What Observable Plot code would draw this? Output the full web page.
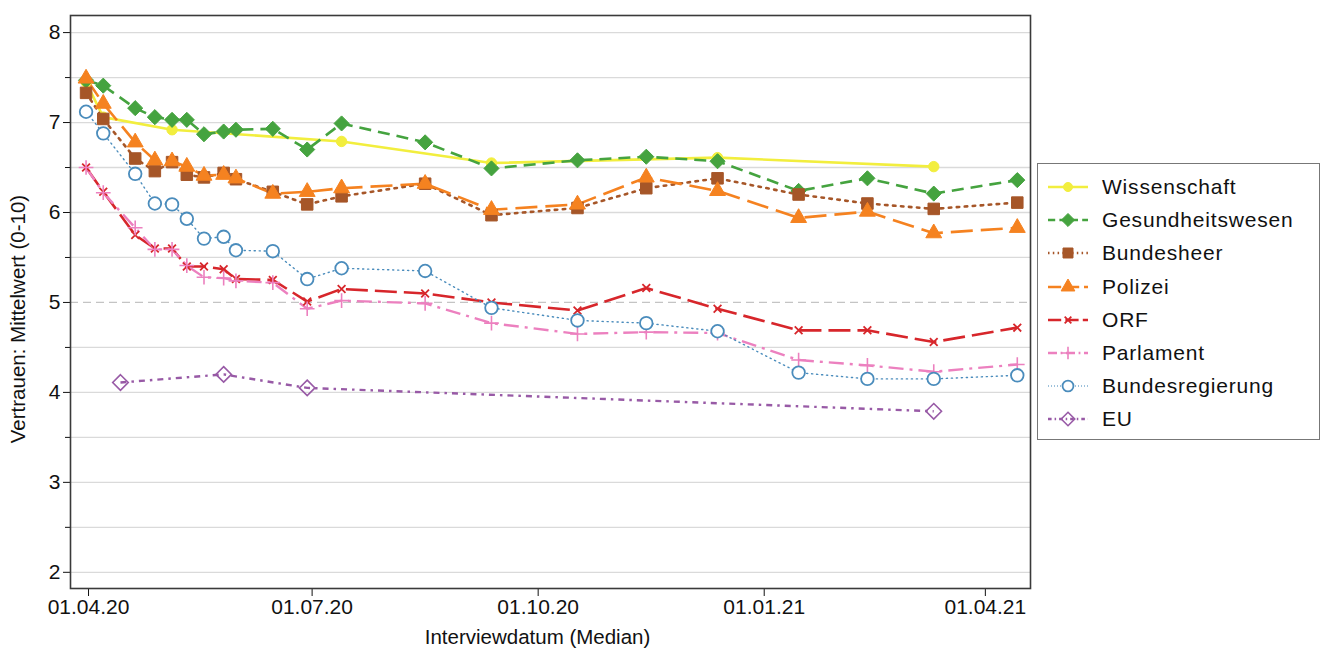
<!DOCTYPE html>
<html>
<head>
<meta charset="utf-8">
<script src="https://cdn.jsdelivr.net/npm/d3@7"></script>
<script src="https://cdn.jsdelivr.net/npm/@observablehq/plot@0.6"></script>
<style>
  body { margin: 0; background: #fff; font-family: "Liberation Sans", Arial, sans-serif; }
  #wrap { position: relative; width: 1323px; height: 650px; }
  #legend { position: absolute; left: 1037px; top: 163px; width: 283px; height: 277px; border: 1px solid #777; box-sizing: border-box; background: #fff; }
  .item { position: absolute; left: 8px; height: 26px; display: flex; align-items: center; font-size: 21px; letter-spacing: 0.8px; color: #111; white-space: nowrap; }
  .item svg { margin-right: 12px; }
</style>
</head>
<body>
<div id="wrap"><div id="chart"></div><div id="legend"></div></div>
<script>
// ---- data ----
const waveDates = ["2020-03-31","2020-04-07","2020-04-20","2020-04-28","2020-05-05","2020-05-11","2020-05-18","2020-05-26","2020-05-31","2020-06-15","2020-06-29","2020-07-13","2020-08-16","2020-09-12","2020-10-17","2020-11-14","2020-12-13","2021-01-15","2021-02-12","2021-03-11","2021-04-14"];
const wissenschaft     = [7.45, 7.06, null, null, 6.92, null, null, null, null, null, null, 6.79, null, 6.55, null, null, 6.61, null, null, 6.51, null];
const gesundheitswesen = [7.47, 7.41, 7.16, 7.06, 7.03, 7.03, 6.87, 6.90, 6.92, 6.93, 6.70, 6.99, 6.78, 6.49, 6.58, 6.62, 6.57, 6.24, 6.38, 6.21, 6.36];
const bundesheer       = [7.33, 7.04, 6.60, 6.46, 6.56, 6.42, 6.39, 6.44, 6.37, 6.23, 6.09, 6.18, 6.32, 5.97, 6.05, 6.27, 6.38, 6.20, 6.10, 6.04, 6.11];
const polizei          = [7.49, 7.21, 6.78, 6.58, 6.57, 6.51, 6.41, 6.42, 6.38, 6.21, 6.23, 6.27, 6.32, 6.03, 6.09, 6.39, 6.24, 5.94, 6.01, 5.77, 5.83];
const orf              = [6.50, 6.23, 5.75, 5.60, 5.60, 5.40, 5.40, 5.37, 5.26, 5.25, 5.01, 5.15, 5.10, 5.00, 4.91, 5.16, 4.93, 4.69, 4.69, 4.56, 4.72];
const parlament        = [6.50, 6.22, 5.83, 5.59, 5.59, 5.41, 5.28, 5.27, 5.24, 5.22, 4.93, 5.02, 4.99, 4.77, 4.65, 4.67, 4.66, 4.36, 4.30, 4.23, 4.31];
const bundesregierung  = [7.12, 6.88, 6.43, 6.10, 6.09, 5.93, 5.71, 5.73, 5.58, 5.57, 5.26, 5.38, 5.35, 4.94, 4.80, 4.77, 4.68, 4.22, 4.15, 4.15, 4.19];
const euDates = ["2020-04-14","2020-05-26","2020-06-29","2021-03-11"];
const eu      = [4.11, 4.20, 4.05, 3.79];

const xTickDates = ["2020-04-01","2020-07-01","2020-10-01","2021-01-01","2021-04-01"];
const yTickLabels = [2, 3, 4, 5, 6, 7, 8];
const yMinorTicks = [2.5, 3.5, 4.5, 5.5, 6.5, 7.5];
const xLabel = "Interviewdatum (Median)";
const yLabel = "Vertrauen: Mittelwert (0-10)";

// ---- styling per series ----
const parse = d3.utcParse("%Y-%m-%d");
const series = [
  {name: "Wissenschaft",     dates: waveDates, values: wissenschaft,     color: "#f2ee3e", dash: null,         width: 2.6, symbol: d3.symbolCircle,   fill: "#f2ee3e", stroke: "#f2ee3e", r: 5.2, sw: 1},
  {name: "Gesundheitswesen", dates: waveDates, values: gesundheitswesen, color: "#45a33f", dash: "12,7",       width: 2.6, symbol: d3.symbolDiamond2, fill: "#45a33f", stroke: "#45a33f", r: 6.8, sw: 1},
  {name: "Bundesheer",       dates: waveDates, values: bundesheer,       color: "#a65628", dash: "2.5,5.5",    width: 2.6, symbol: d3.symbolSquare,   fill: "#a65628", stroke: "#a65628", r: 6.5, sw: 1},
  {name: "Polizei",          dates: waveDates, values: polizei,          color: "#f58220", dash: "22,8",       width: 2.6, symbol: d3.symbolTriangle, fill: "#f58220", stroke: "#f58220", r: 5.9, sw: 1},
  {name: "ORF",              dates: waveDates, values: orf,              color: "#d7262b", dash: "22,7",       width: 2.6, symbol: d3.symbolTimes,    fill: "none",    stroke: "#d7262b", r: 3.6, sw: 1.8},
  {name: "Parlament",        dates: waveDates, values: parlament,        color: "#ec80bf", dash: "15,6,3,6",   width: 2.4, symbol: d3.symbolPlus,     fill: "none",    stroke: "#ec80bf", r: 4.8, sw: 1.6},
  {name: "Bundesregierung",  dates: waveDates, values: bundesregierung,  color: "#4a8cbc", dash: "1.2,3.8",    width: 1.4, symbol: d3.symbolCircle,   fill: "#fff",    stroke: "#4a8cbc", r: 6.3, sw: 1.8},
  {name: "EU",               dates: euDates,   values: eu,               color: "#985aa6", dash: "6,5,2.5,5",  width: 2.4, symbol: d3.symbolDiamond2, fill: "none",    stroke: "#985aa6", r: 7,   sw: 1.6}
];

const rows = s => s.values
  .map((v, i) => ({name: s.name, date: parse(s.dates[i]), value: v}))
  .filter(d => d.value != null);

const gridVals = [2, 2.5, 3, 3.5, 4, 4.5, 5.5, 6, 6.5, 7, 7.5, 8];

const marks = [
  Plot.ruleY(gridVals, {stroke: "#dadada", strokeWidth: 1.3}),
  Plot.ruleY([5], {stroke: "#c4c4c4", strokeWidth: 1.3, strokeDasharray: "8,5"}),
  Plot.axisY({ticks: yTickLabels, tickSize: 7, tickPadding: 3, fontSize: 21, tickFormat: d3.format("d"), label: null}),
  Plot.axisY({ticks: yMinorTicks, tickSize: 5, tickFormat: () => "", label: null}),
  Plot.axisX({ticks: xTickDates.map(parse), tickFormat: d3.utcFormat("%d.%m.%y"), tickSize: 8, tickPadding: 3, fontSize: 21, label: null}),
  Plot.text([xLabel], {frameAnchor: "bottom", lineAnchor: "middle", textAnchor: "middle", dy: 49, dx: -13, fontSize: 20.5, fill: "#111"}),
  Plot.text([yLabel], {frameAnchor: "left", textAnchor: "middle", lineAnchor: "middle", rotate: -90, dx: -52, dy: 17, fontSize: 20.5, fill: "#111"})
];
for (const s of series) {
  const data = rows(s);
  marks.push(Plot.line(data, {x: "date", y: "value", stroke: s.color, strokeWidth: s.width,
    strokeDasharray: s.dash ?? undefined, strokeLinecap: s.name === "Bundesheer" || s.name === "Bundesregierung" ? "round" : "butt"}));
}
for (const s of series) {
  const data = rows(s);
  marks.push(Plot.dot(data, {x: "date", y: "value", symbol: s.symbol, r: s.r, fill: s.fill, stroke: s.stroke, strokeWidth: s.sw}));
}
marks.push(Plot.frame({stroke: "#3a3a3a", strokeWidth: 1.6}));

const chart = Plot.plot({
  width: 1323,
  height: 650,
  marginLeft: 70,
  marginRight: 293,
  marginTop: 15,
  marginBottom: 62,
  style: {fontFamily: "'Liberation Sans', Arial, sans-serif", color: "#111", background: "#fff"},
  x: {type: "utc", domain: [new Date("2020-03-24T16:00:00Z"), new Date("2021-04-19T09:00:00Z")]},
  y: {domain: [1.82, 8.19]},
  marks
});
document.getElementById("chart").appendChild(chart);

// ---- legend ----
const legend = document.getElementById("legend");
series.forEach((s, i) => {
  const item = document.createElement("div");
  item.className = "item";
  item.style.top = (10 + i * 33.2) + "px";
  const ns = "http://www.w3.org/2000/svg";
  const svg = document.createElementNS(ns, "svg");
  svg.setAttribute("width", 44); svg.setAttribute("height", 22);
  const line = document.createElementNS(ns, "line");
  line.setAttribute("x1", 2); line.setAttribute("x2", 42); line.setAttribute("y1", 11); line.setAttribute("y2", 11);
  line.setAttribute("stroke", s.color); line.setAttribute("stroke-width", s.width);
  if (s.dash) line.setAttribute("stroke-dasharray", s.dash.split(",").map(v => v * 0.6).join(","));
  svg.appendChild(line);
  const p = document.createElementNS(ns, "path");
  p.setAttribute("d", d3.symbol(s.symbol, Math.PI * s.r * s.r * 0.75)());
  p.setAttribute("transform", "translate(22,11)");
  p.setAttribute("fill", s.fill); p.setAttribute("stroke", s.stroke); p.setAttribute("stroke-width", s.sw);
  svg.appendChild(p);
  item.appendChild(svg);
  const t = document.createElement("span");
  t.textContent = s.name;
  item.appendChild(t);
  legend.appendChild(item);
});
</script>
</body>
</html>
